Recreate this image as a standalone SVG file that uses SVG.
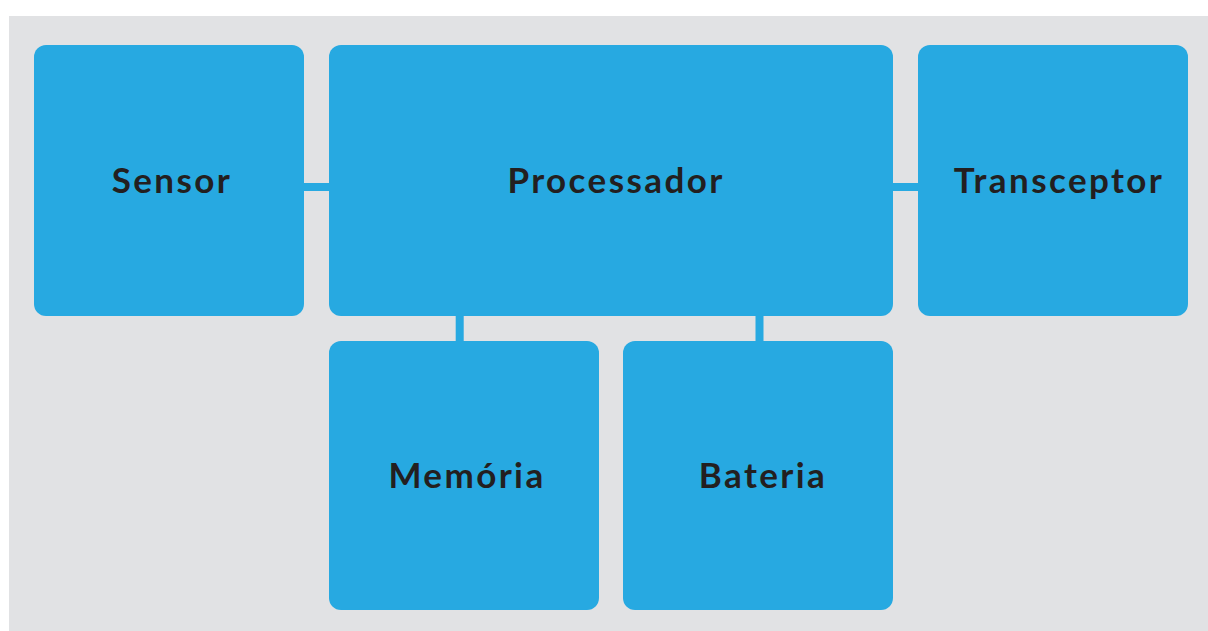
<svg xmlns="http://www.w3.org/2000/svg" width="1208" height="631" viewBox="0 0 1208 631">
  <style>
    .box { fill: #27a9e1; }
    .lbl { font-family: Lato, "Open Sans", "Liberation Sans", sans-serif; font-weight: 700; font-size: 35px; letter-spacing: 2.4px; fill: #231f20; text-anchor: middle; }
    .link { fill: #27a9e1; }
  </style>
  <rect x="0" y="0" width="1208" height="631" fill="#ffffff"/>
  <rect x="9" y="16" width="1199" height="615" fill="#e1e2e4"/>
  <g id="connectors">
    <rect class="link" x="300" y="183" width="34" height="8"/>
    <rect class="link" x="889" y="183" width="34" height="8"/>
    <rect class="link" x="455.7" y="312" width="8" height="34"/>
    <rect class="link" x="755.5" y="312" width="8" height="34"/>
  </g>
  <g id="sensor">
    <rect class="box" x="34" y="45" width="270" height="271" rx="12"/>
    <text class="lbl" x="172" y="193">Sensor</text>
  </g>
  <g id="processador">
    <rect class="box" x="329" y="45" width="564" height="271" rx="12"/>
    <text class="lbl" x="616" y="193">Processador</text>
  </g>
  <g id="transceptor">
    <rect class="box" x="918" y="45" width="270" height="271" rx="12"/>
    <text class="lbl" x="1059" y="193">Transceptor</text>
  </g>
  <g id="memoria">
    <rect class="box" x="329" y="341" width="270" height="269" rx="12"/>
    <text class="lbl" x="467" y="488">Memória</text>
  </g>
  <g id="bateria">
    <rect class="box" x="623" y="341" width="270" height="269" rx="12"/>
    <text class="lbl" x="763" y="488">Bateria</text>
  </g>
</svg>
